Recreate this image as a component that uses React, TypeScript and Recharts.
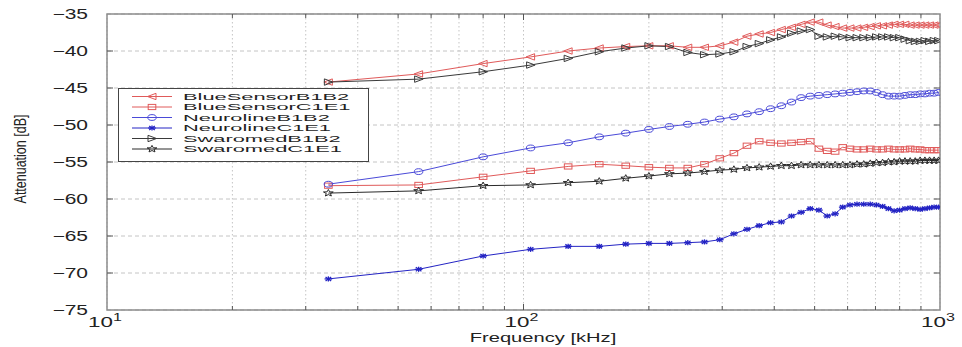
import React from 'react';
import { LineChart, Line, XAxis, YAxis, CartesianGrid, ReferenceArea, Legend } from 'recharts';

// ---------- data ----------
const FREQ_KHZ = [34, 56, 80, 104, 128, 152, 176, 200, 224, 248, 272, 296, 320, 344, 368, 392, 416, 440, 464, 488, 512, 536, 560, 584, 608, 632, 656, 680, 704, 728, 752, 776, 800, 824, 848, 872, 896, 920, 944, 968, 992];

const BLUESENSOR_B1B2 = [-44.2, -43.1, -41.7, -40.8, -40.0, -39.6, -39.4, -39.3, -39.3, -39.5, -39.5, -39.3, -38.8, -38.0, -37.7, -37.5, -37.1, -36.8, -36.4, -36.1, -36.1, -36.5, -36.7, -36.9, -36.9, -36.9, -36.8, -36.7, -36.6, -36.6, -36.5, -36.4, -36.4, -36.4, -36.5, -36.5, -36.5, -36.5, -36.5, -36.5, -36.5];
const BLUESENSOR_C1E1 = [-58.2, -58.1, -57.0, -56.2, -55.6, -55.3, -55.5, -55.7, -55.8, -55.8, -55.3, -54.5, -53.8, -52.8, -52.2, -52.4, -52.5, -52.4, -52.3, -52.2, -53.2, -53.5, -53.6, -53.0, -53.2, -53.3, -53.3, -53.2, -53.3, -53.3, -53.2, -53.3, -53.3, -53.3, -53.2, -53.3, -53.3, -53.4, -53.4, -53.4, -53.4];
const NEUROLINE_B1B2 = [-58.0, -56.3, -54.3, -53.1, -52.4, -51.6, -51.1, -50.6, -50.2, -49.9, -49.6, -49.2, -48.9, -48.5, -48.2, -47.8, -47.4, -46.9, -46.3, -46.1, -46.0, -45.9, -45.8, -45.7, -45.6, -45.5, -45.4, -45.4, -45.6, -45.9, -46.1, -46.1, -46.1, -46.0, -45.9, -45.9, -45.8, -45.8, -45.7, -45.7, -45.6];
const NEUROLINE_C1E1 = [-70.8, -69.5, -67.7, -66.8, -66.4, -66.4, -66.1, -66.0, -66.0, -65.9, -65.8, -65.5, -64.7, -64.1, -63.6, -63.2, -63.1, -62.3, -61.8, -61.3, -61.5, -62.3, -62.0, -61.1, -60.8, -60.7, -60.7, -60.7, -60.8, -61.0, -61.3, -61.6, -61.5, -61.3, -61.2, -61.3, -61.4, -61.3, -61.2, -61.1, -61.1];
const SWAROMED_B1B2 = [-44.2, -43.8, -42.8, -41.9, -41.0, -40.1, -39.6, -39.3, -39.4, -40.2, -40.5, -40.4, -40.1, -39.4, -39.0, -38.5, -38.1, -37.6, -37.3, -37.1, -38.0, -38.1, -38.0, -38.1, -38.2, -38.2, -38.2, -38.2, -38.1, -38.1, -38.1, -38.2, -38.2, -38.4, -38.6, -38.7, -38.7, -38.6, -38.7, -38.6, -38.6];
const SWAROMED_C1E1 = [-59.2, -58.9, -58.2, -58.1, -57.8, -57.6, -57.2, -56.9, -56.6, -56.5, -56.3, -56.1, -56.0, -55.8, -55.7, -55.6, -55.5, -55.5, -55.4, -55.4, -55.4, -55.4, -55.4, -55.4, -55.4, -55.3, -55.3, -55.2, -55.1, -55.1, -55.0, -55.0, -54.9, -54.9, -54.9, -54.9, -54.8, -54.8, -54.8, -54.8, -54.8];

const X_TICKS = [10, 20, 30, 40, 50, 60, 70, 80, 90, 100, 200, 300, 400, 500, 600, 700, 800, 900, 1000];
const X_DECADES = [10, 100, 1000];
const Y_TICKS = [-75, -70, -65, -60, -55, -50, -45, -40, -35];

const SERIES = [
  { name: 'BlueSensorB1B2', values: BLUESENSOR_B1B2, color: '#e05a5a', marker: 'triLeft' },
  { name: 'BlueSensorC1E1', values: BLUESENSOR_C1E1, color: '#e05a5a', marker: 'square' },
  { name: 'NeurolineB1B2', values: NEUROLINE_B1B2, color: '#4a4ad8', marker: 'circle' },
  { name: 'NeurolineC1E1', values: NEUROLINE_C1E1, color: '#2424c4', marker: 'asterisk' },
  { name: 'SwaromedB1B2', values: SWAROMED_B1B2, color: '#3a3a3a', marker: 'triRight' },
  { name: 'SwaromedC1E1', values: SWAROMED_C1E1, color: '#2a2a2a', marker: 'pentagram' },
];

const DATA = FREQ_KHZ.map((f, i) => {
  const row: any = { f };
  SERIES.forEach((s) => { row[s.name] = s.values[i]; });
  return row;
});

// ---------- layout ----------
const W = 962;
const H = 347;
const PLOT_LEFT = 107;
const PLOT_TOP = 14;
const PLOT_RIGHT = 940;
const PLOT_BOTTOM = 310;
const FONT = '"Liberation Sans", Arial, sans-serif';

function Marker({ shape, cx, cy, color }: any) {
  const sw = 1;
  switch (shape) {
    case 'triLeft':
      return <polygon points={`${cx - 4.5},${cy} ${cx + 4},${cy - 3.2} ${cx + 4},${cy + 3.2}`} fill="none" stroke={color} strokeWidth={sw} />;
    case 'triRight':
      return <polygon points={`${cx + 4.5},${cy} ${cx - 4},${cy - 3.2} ${cx - 4},${cy + 3.2}`} fill="none" stroke={color} strokeWidth={sw} />;
    case 'square':
      return <rect x={cx - 3.8} y={cy - 2.6} width={7.6} height={5.2} fill="none" stroke={color} strokeWidth={sw} />;
    case 'circle':
      return <ellipse cx={cx} cy={cy} rx={4.2} ry={2.9} fill="none" stroke={color} strokeWidth={sw} />;
    case 'asterisk':
      return (
        <g stroke={color} strokeWidth={1.3}>
          <line x1={cx - 3.8} y1={cy} x2={cx + 3.8} y2={cy} />
          <line x1={cx} y1={cy - 2.6} x2={cx} y2={cy + 2.6} />
          <line x1={cx - 2.8} y1={cy - 2} x2={cx + 2.8} y2={cy + 2} />
          <line x1={cx - 2.8} y1={cy + 2} x2={cx + 2.8} y2={cy - 2} />
        </g>
      );
    case 'pentagram': {
      const pts: string[] = [];
      for (let i = 0; i < 10; i++) {
        const r = i % 2 === 0 ? 3.8 : 1.6;
        const a = -Math.PI / 2 + (i * Math.PI) / 5;
        pts.push(`${cx + r * Math.cos(a) * 1.35},${cy + r * Math.sin(a) * 0.95}`);
      }
      return <polygon points={pts.join(' ')} fill="none" stroke={color} strokeWidth={sw} />;
    }
    default:
      return null;
  }
}

const makeDot = (shape: string, color: string) => (p: any) => {
  if (p.cx == null || p.cy == null) return <g key={`e-${shape}-${p.index}`} />;
  return (
    <g key={`d-${shape}-${p.index}`}>
      <Marker shape={shape} cx={p.cx} cy={p.cy} color={color} />
    </g>
  );
};

function XTick(props: any) {
  const { x, payload } = props;
  const v = payload.value;
  const isDecade = X_DECADES.includes(v);
  const len = isDecade ? 6 : 4;
  const exp = Math.round(Math.log10(v));
  const showTicks = v !== 10 && v !== 1000;
  return (
    <g>
      {showTicks && <line x1={x} y1={PLOT_BOTTOM} x2={x} y2={PLOT_BOTTOM - len} stroke="#555" strokeWidth={1} />}
      {showTicks && <line x1={x} y1={PLOT_TOP} x2={x} y2={PLOT_TOP + len} stroke="#555" strokeWidth={1} />}
      {isDecade && (
        <g transform={`translate(${x - 2}, 327) scale(1.6, 1)`}>
          <text x={0} y={0} textAnchor="middle" fontFamily={FONT} fontSize={14} fill="#222">
            10
            <tspan fontSize={10} dy={-6}>{exp}</tspan>
          </text>
        </g>
      )}
    </g>
  );
}

function YTick(props: any) {
  const { y, payload } = props;
  const v = payload.value;
  const edge = v === -75 || v === -35;
  const label = v < 0 ? `\u2212${Math.abs(v)}` : `${v}`;
  return (
    <g>
      {!edge && <line x1={PLOT_LEFT} y1={y} x2={PLOT_LEFT + 6} y2={y} stroke="#555" strokeWidth={1} />}
      {!edge && <line x1={PLOT_RIGHT - 6} y1={y} x2={PLOT_RIGHT} y2={y} stroke="#555" strokeWidth={1} />}
      <g transform={`translate(88, ${y}) scale(1.5, 1)`}>
        <text x={0} y={0} dy="0.36em" textAnchor="end" fontFamily={FONT} fontSize={14} fill="#222">
          {label}
        </text>
      </g>
    </g>
  );
}

const renderXLabel = () => (
  <g transform={`translate(543, 342) scale(1.55, 1)`}>
    <text x={0} y={0} textAnchor="middle" fontFamily={FONT} fontSize={13} fill="#222">
      Frequency [kHz]
    </text>
  </g>
);

const renderYLabel = () => (
  <g transform={`translate(20, 159) scale(1.3, 1) rotate(-90)`}>
    <text x={0} y={0} dy="0.36em" textAnchor="middle" fontFamily={FONT} fontSize={12.5} fill="#222">
      Attenuation [dB]
    </text>
  </g>
);

const LEG_W = 251;
const LEG_H = 74;

const renderLegend = () => (
  <svg width={LEG_W} height={LEG_H} style={{ display: 'block' }}>
    <rect x={0.5} y={0.5} width={LEG_W - 1} height={LEG_H - 1} fill="#fff" stroke="#444" strokeWidth={1} />
    {SERIES.map((s, i) => {
      const cy = 8.5 + i * 10.5;
      return (
        <g key={s.name}>
          <line x1={14} y1={cy} x2={54} y2={cy} stroke={s.color} strokeWidth={1} />
          <Marker shape={s.marker} cx={34} cy={cy} color={s.color} />
          <g transform={`translate(65, ${cy}) scale(2.3, 1)`}>
            <text x={0} y={0} dy="0.36em" fontFamily={FONT} fontSize={9.5} fill="#222">
              {s.name}
            </text>
          </g>
        </g>
      );
    })}
  </svg>
);

export default function App() {
  return (
    <div style={{ position: 'absolute', left: 0, top: 0, width: W, height: H, background: '#fff' }}>
      <LineChart
        width={W}
        height={H}
        data={DATA}
        margin={{ top: PLOT_TOP, right: W - PLOT_RIGHT, left: 0, bottom: 0 }}
      >
        <CartesianGrid horizontal={true} vertical={false} stroke="#c4c4c4" strokeDasharray="4 3" />
        <CartesianGrid horizontal={false} vertical={true} stroke="#c4c4c4" strokeDasharray="1.5 2.5" />
        <XAxis
          dataKey="f"
          type="number"
          scale="log"
          domain={[10, 1000]}
          ticks={X_TICKS}
          interval={0}
          allowDataOverflow
          axisLine={false}
          tickLine={false}
          tick={<XTick />}
          height={H - PLOT_BOTTOM}
          label={renderXLabel}
        />
        <YAxis
          type="number"
          domain={[-75, -35]}
          ticks={Y_TICKS}
          interval={0}
          allowDataOverflow
          axisLine={false}
          tickLine={false}
          tick={<YTick />}
          width={PLOT_LEFT}
          label={renderYLabel}
        />
        <ReferenceArea x1={10} x2={1000} y1={-75} y2={-35} fill="none" fillOpacity={0} stroke="#8c8c8c" strokeWidth={1.5} />
        {SERIES.map((s) => (
          <Line
            key={s.name}
            type="linear"
            dataKey={s.name}
            name={s.name}
            stroke={s.color}
            strokeWidth={1}
            dot={makeDot(s.marker, s.color)}
            activeDot={false}
            isAnimationActive={false}
          />
        ))}
        <Legend
          layout="vertical"
          align="center"
          verticalAlign="middle"
          content={renderLegend}
          wrapperStyle={{ position: 'absolute', left: 118, top: 88, width: LEG_W, height: LEG_H }}
        />
      </LineChart>
    </div>
  );
}
